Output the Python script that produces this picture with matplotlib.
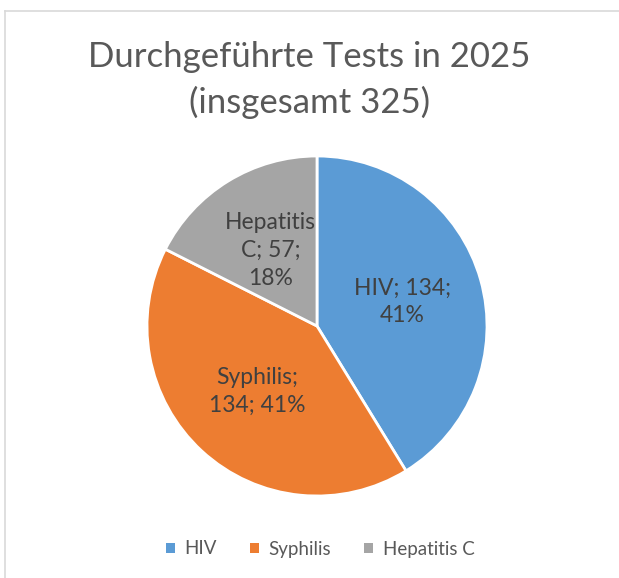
import matplotlib
matplotlib.use('Agg')
import matplotlib.pyplot as plt
from matplotlib.lines import Line2D
from matplotlib.patches import Patch
import numpy as np

# Data
categories = ['HIV', 'Syphilis', 'Hepatitis C']
counts = [134, 134, 57]
label_texts = ['HIV; 134;\n41%', 'Syphilis;\n134; 41%', 'Hepatitis\nC; 57;\n18%']
colors = ['#5B9BD5', '#ED7D31', '#A5A5A5']
title = 'Durchgeführte Tests in 2025\n(insgesamt 325)'

W, H = 619, 578
plt.rcParams['font.family'] = ['Lato', 'DejaVu Sans']

fig = plt.figure(figsize=(W / 100, H / 100), dpi=100)

# chart frame (only top and left edges visible)
fig.add_artist(Line2D([5 / W, 5 / W], [0, 1 - 11 / H], color='#D9D9D9', lw=1.2, transform=fig.transFigure))
fig.add_artist(Line2D([5 / W, 1], [1 - 11 / H, 1 - 11 / H], color='#D9D9D9', lw=1.2, transform=fig.transFigure))

# pie axes: center (317, 326) px, radius 170 px
cx, cy, r = 317, 326, 170
ax = fig.add_axes([(cx - r) / W, (H - cy - r) / H, 2 * r / W, 2 * r / H])
wedges, _ = ax.pie(counts, colors=colors, startangle=90, counterclock=False,
                   wedgeprops=dict(edgecolor='white', linewidth=2))
ax.set_xlim(-1, 1)
ax.set_ylim(-1, 1)
ax.set_aspect('equal')
ax.axis('off')

for w, txt in zip(wedges, label_texts):
    mid = np.deg2rad((w.theta1 + w.theta2) / 2)
    ax.text(0.52 * np.cos(mid), 0.52 * np.sin(mid), txt, ha='center', va='center',
            fontsize=16.5, color='#404040', linespacing=1.4)

fig.text(0.5, 1 - 80 / H, title, ha='center', va='center', fontsize=25,
         color='#595959', linespacing=1.45)

handles = [Patch(facecolor=c, edgecolor='none') for c in colors]
fig.legend(handles, categories, loc='center', bbox_to_anchor=(0.517, 1 - 549 / H),
           ncol=3, frameon=False, fontsize=13.5, labelcolor='#595959',
           handlelength=0.5, handleheight=0.5, handletextpad=0.5, columnspacing=1.75)

fig.savefig('out.png', dpi=100, facecolor='white')
